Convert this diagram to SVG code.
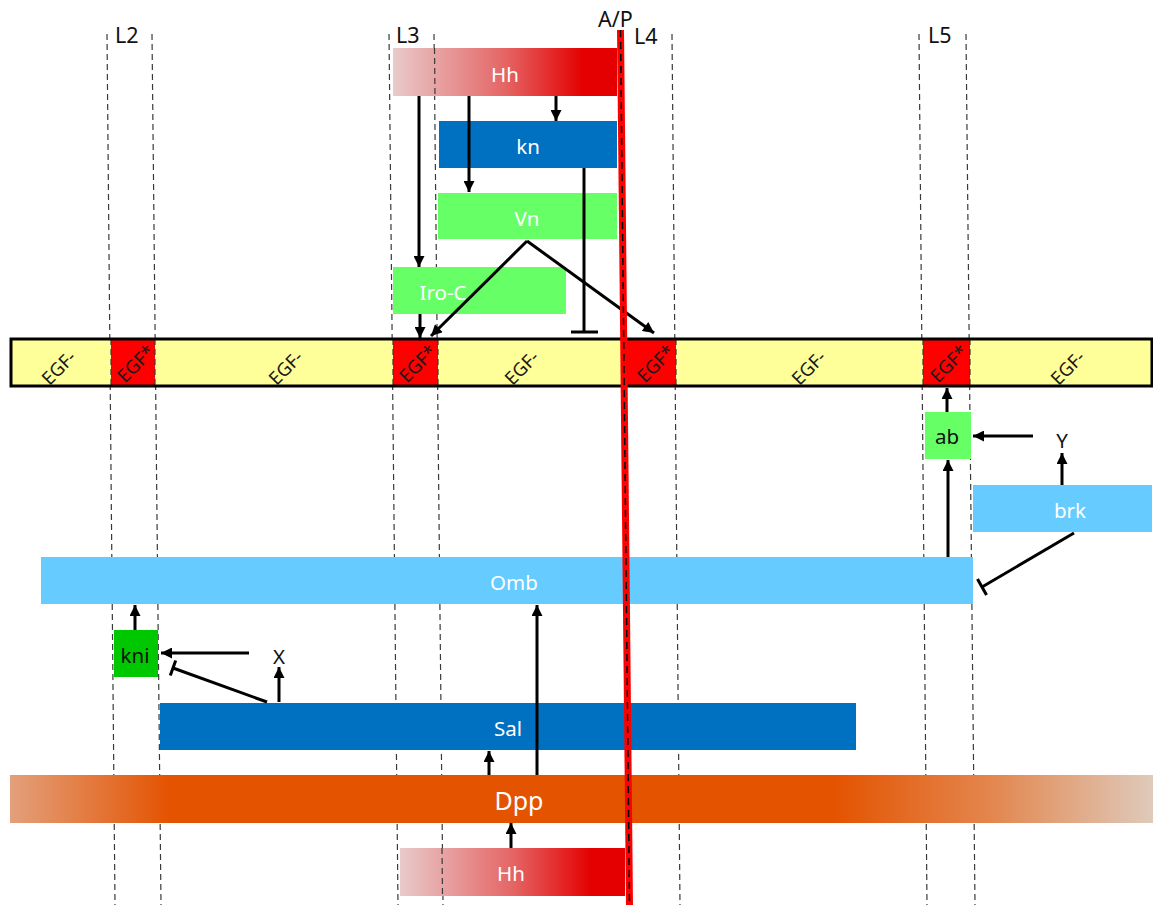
<svg xmlns="http://www.w3.org/2000/svg" width="1153" height="905" viewBox="0 0 1153 905">
<style>
.lbl{font-family:"Noto Sans","Open Sans","Liberation Sans",sans-serif;font-size:20.5px;text-anchor:middle}
.w{fill:#ffffff}
.k{fill:#111111}
.hdr{font-family:"Noto Sans","Open Sans","Liberation Sans",sans-serif;font-size:21.5px;fill:#111111}
.egf{font-family:"Noto Sans","Open Sans","Liberation Sans",sans-serif;font-size:18.5px;fill:#1a1a1a;text-anchor:middle;dominant-baseline:central}
.dash{stroke:#3a3a3a;stroke-width:1.2;stroke-dasharray:6,4;fill:none}
.ar{stroke:#000;stroke-width:3;fill:none;marker-end:url(#ah)}
.inh{stroke:#000;stroke-width:3;fill:none}
</style>
<defs>
<marker id="ah" viewBox="0 0 10 10" refX="10" refY="5" markerWidth="12" markerHeight="11" markerUnits="userSpaceOnUse" orient="auto"><path d="M0,0 L10,5 L0,10 z" fill="#000"/></marker>
<linearGradient id="hh" x1="0" y1="0" x2="1" y2="0">
<stop offset="0" stop-color="#e9caca"/>
<stop offset="0.5" stop-color="#e56565"/>
<stop offset="0.85" stop-color="#e40000"/>
<stop offset="1" stop-color="#e40000"/>
</linearGradient>
<linearGradient id="dpp" x1="0" y1="0" x2="1" y2="0">
<stop offset="0" stop-color="#e3a07c"/>
<stop offset="0.14" stop-color="#e45300"/>
<stop offset="0.72" stop-color="#e45300"/>
<stop offset="0.86" stop-color="#e3874f"/>
<stop offset="1" stop-color="#dfcabb"/>
</linearGradient>
</defs>
<rect width="1153" height="905" fill="#ffffff"/>

<g id="veins">
<line class="dash" x1="107" y1="34" x2="115" y2="905"/>
<line class="dash" x1="152" y1="34" x2="161" y2="905"/>
<line class="dash" x1="389" y1="34" x2="398" y2="905"/>
<line class="dash" x1="434" y1="34" x2="443" y2="905"/>
<line class="dash" x1="672" y1="34" x2="680" y2="905"/>
<line class="dash" x1="919" y1="34" x2="927" y2="905"/>
<line class="dash" x1="966" y1="34" x2="975" y2="905"/>
<text class="hdr" x="115" y="43">L2</text>
<text class="hdr" x="396" y="43">L3</text>
<text class="hdr" x="634" y="44">L4</text>
<text class="hdr" x="928" y="43">L5</text>
<text class="hdr" x="598" y="27">A/P</text>
</g>

<g id="node-hh-top">
<rect x="393" y="48" width="224" height="48" fill="url(#hh)"/>
<text class="lbl w" x="505" y="82">Hh</text>
</g>
<g id="node-kn">
<rect x="439" y="121" width="178" height="47" fill="#0070c0"/>
<text class="lbl w" x="528" y="154">kn</text>
</g>
<g id="node-vn">
<rect x="438" y="193" width="179" height="46" fill="#66ff66"/>
<text class="lbl w" x="527" y="226">Vn</text>
</g>
<g id="node-iroc">
<rect x="393" y="267" width="173" height="47" fill="#66ff66"/>
<text class="lbl w" x="443" y="300">Iro-C</text>
</g>

<g id="node-egf-band">
<rect x="11" y="339" width="1141" height="47" fill="#ffff99"/>
<rect x="111" y="339" width="44" height="47" fill="#ff0000"/>
<rect x="393" y="339" width="45" height="47" fill="#ff0000"/>
<rect x="625" y="339" width="51" height="47" fill="#ff0000"/>
<rect x="923" y="339" width="47" height="47" fill="#ff0000"/>
<line class="dash" x1="111" y1="339" x2="111" y2="386"/>
<line class="dash" x1="155" y1="339" x2="155" y2="386"/>
<line class="dash" x1="393" y1="339" x2="393" y2="386"/>
<line class="dash" x1="438" y1="339" x2="438" y2="386"/>
<line class="dash" x1="676" y1="339" x2="676" y2="386"/>
<line class="dash" x1="923" y1="339" x2="923" y2="386"/>
<line class="dash" x1="970" y1="339" x2="970" y2="386"/>
<rect x="11" y="339" width="1141" height="47" fill="none" stroke="#000" stroke-width="3"/>
<text class="egf" transform="rotate(-45 58 367)" x="58" y="367">EGF-</text>
<text class="egf" transform="rotate(-45 135 363)" x="135" y="363">EGF*</text>
<text class="egf" transform="rotate(-45 285 367)" x="285" y="367">EGF-</text>
<text class="egf" transform="rotate(-45 417 363)" x="417" y="363">EGF*</text>
<text class="egf" transform="rotate(-45 521 367)" x="521" y="367">EGF-</text>
<text class="egf" transform="rotate(-45 655 363)" x="655" y="363">EGF*</text>
<text class="egf" transform="rotate(-45 808 367)" x="808" y="367">EGF-</text>
<text class="egf" transform="rotate(-45 948 363)" x="948" y="363">EGF*</text>
<text class="egf" transform="rotate(-45 1067 367)" x="1067" y="367">EGF-</text>
</g>

<g id="node-ab">
<rect x="925" y="412" width="46" height="47" fill="#66ff66"/>
<text class="lbl k" x="947" y="444">ab</text>
</g>
<g id="node-y">
<text class="lbl k" x="1062" y="448">Y</text>
</g>
<g id="node-brk">
<rect x="973" y="485" width="179" height="47" fill="#66ccff"/>
<text class="lbl w" x="1070" y="518">brk</text>
</g>
<g id="node-omb">
<rect x="41" y="557" width="932" height="47" fill="#66ccff"/>
<text class="lbl w" x="514" y="590">Omb</text>
</g>
<g id="node-kni">
<rect x="114" y="630" width="44" height="47" fill="#00c800"/>
<text class="lbl k" x="135" y="663">kni</text>
</g>
<g id="node-x">
<text class="lbl k" x="279" y="664">X</text>
</g>
<g id="node-sal">
<rect x="160" y="703" width="696" height="47" fill="#0070c0"/>
<text class="lbl w" x="508" y="736">Sal</text>
</g>
<g id="node-dpp">
<rect x="10" y="775" width="1143" height="48" fill="url(#dpp)"/>
<text class="lbl w" x="519" y="810" style="font-size:25px">Dpp</text>
</g>
<g id="node-hh-bottom">
<rect x="400" y="848" width="225" height="48" fill="url(#hh)"/>
<text class="lbl w" x="511" y="881">Hh</text>
</g>

<g id="vein-overlays">
<line class="dash" x1="434.5" y1="48" x2="435" y2="96"/>
<line class="dash" x1="442" y1="848" x2="442.5" y2="896"/>
</g>

<g id="connectors">
<line class="ar" x1="419" y1="96" x2="419" y2="267"/>
<line class="ar" x1="469" y1="96" x2="469" y2="192"/>
<line class="ar" x1="556" y1="96" x2="556" y2="121"/>
<line class="ar" x1="420" y1="314" x2="420" y2="338"/>
<line class="ar" x1="527" y1="241" x2="431" y2="336"/>
<line class="ar" x1="527" y1="241" x2="654" y2="333"/>
<line class="inh" x1="584" y1="168" x2="584" y2="332"/>
<line class="inh" x1="571" y1="332" x2="598" y2="332"/>
<line class="ar" x1="947" y1="412" x2="947" y2="388"/>
<line class="ar" x1="948" y1="557" x2="948" y2="460"/>
<line class="ar" x1="1033" y1="436" x2="973" y2="436"/>
<line class="ar" x1="1062" y1="485" x2="1062" y2="453"/>
<line class="inh" x1="1074" y1="533" x2="982" y2="587"/>
<line class="inh" x1="977.5" y1="579" x2="986.5" y2="595"/>
<line class="ar" x1="135" y1="630" x2="135" y2="605"/>
<line class="ar" x1="249" y1="653" x2="161" y2="653"/>
<line class="ar" x1="279" y1="702" x2="279" y2="667"/>
<line class="inh" x1="267" y1="702" x2="173" y2="668"/>
<line class="inh" x1="175.7" y1="660.5" x2="170.3" y2="675.5"/>
<line class="ar" x1="489" y1="775" x2="489" y2="751"/>
<line class="ar" x1="537" y1="775" x2="537" y2="605"/>
<line class="ar" x1="511" y1="848" x2="511" y2="823"/>
</g>

<g id="ap-boundary">
<polygon points="617,30 624,30 633,905 626,905" fill="#ff0000"/>
<line x1="620.5" y1="30" x2="629.5" y2="905" stroke="#000" stroke-width="1.5" stroke-dasharray="7,5"/>
</g>
</svg>
